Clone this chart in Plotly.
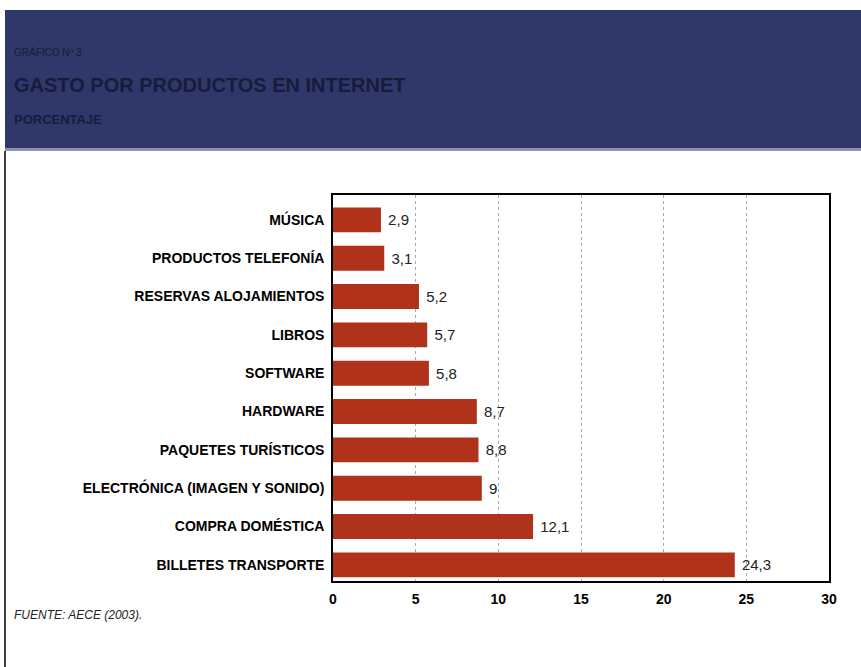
import plotly.graph_objects as go

categories = ["MÚSICA", "PRODUCTOS TELEFONÍA", "RESERVAS ALOJAMIENTOS", "LIBROS", "SOFTWARE",
              "HARDWARE", "PAQUETES TURÍSTICOS", "ELECTRÓNICA (IMAGEN Y SONIDO)",
              "COMPRA DOMÉSTICA", "BILLETES TRANSPORTE"]
values = [2.9, 3.1, 5.2, 5.7, 5.8, 8.7, 8.8, 9, 12.1, 24.3]
value_labels = [" " + str(v).replace(".", ",") for v in values]
x_ticks = [0, 5, 10, 15, 20, 25, 30]

fig = go.Figure(go.Bar(
    y=categories, x=values, orientation="h",
    marker=dict(color="#b0321b", line=dict(width=0)),
    width=0.65,
    text=value_labels, textposition="outside",
    textfont=dict(family="Liberation Sans, Arial", size=15, color="#222"),
    cliponaxis=False,
))

fig.update_layout(
    width=861, height=667,
    margin=dict(l=333, r=32, t=195, b=86),
    paper_bgcolor="white", plot_bgcolor="white",
    showlegend=False,
    xaxis=dict(range=[0, 30], tickvals=x_ticks, showgrid=True, gridcolor="#aaa",
               griddash="dot", gridwidth=1, zeroline=False,
               showline=True, linecolor="black", linewidth=1.5, mirror=True,
               ticks="", ticklabelstandoff=4,
               tickfont=dict(family="Liberation Sans Narrow, Arial", size=14, color="black",
                             weight="bold")),
    yaxis=dict(type="category", categoryorder="array", categoryarray=categories,
               range=[9.42, -0.65], showgrid=False,
               showline=True, linecolor="black", linewidth=1.5, mirror=True,
               ticks="", ticklabelstandoff=4,
               tickfont=dict(family="Liberation Sans, Arial", size=14, color="black", weight="bold")),
    font=dict(family="Liberation Sans, Arial"),
)

fig.update_layout(shapes=[
    dict(type="rect", xref="x domain", yref="y domain", xsizemode="pixel", ysizemode="pixel",
         xanchor=0, yanchor=1, x0=-328, x1=528, y0=185, y1=47,
         fillcolor="#2f3868", line=dict(width=0), layer="below"),
    dict(type="rect", xref="x domain", yref="y domain", xsizemode="pixel", ysizemode="pixel",
         xanchor=0, yanchor=1, x0=-328, x1=528, y0=47, y1=44,
         fillcolor="#8d93b0", line=dict(width=0), layer="below"),
    dict(type="line", xref="x domain", yref="y domain", xsizemode="pixel", ysizemode="pixel",
         xanchor=0, yanchor=1, x0=-328, x1=-328, y0=44, y1=-480,
         line=dict(color="black", width=1.5)),
])

hdr = "#171b3c"
fig.add_annotation(text="GRÁFICO Nº 3", xref="paper", yref="paper", x=0, y=1,
                   xshift=-321, yshift=143, xanchor="left", yanchor="middle", showarrow=False,
                   font=dict(family="Liberation Sans Narrow, Arial", size=10, color=hdr))
fig.add_annotation(text="<b>GASTO POR PRODUCTOS EN INTERNET</b>", xref="paper", yref="paper", x=0, y=1,
                   xshift=-321, yshift=110, xanchor="left", yanchor="middle", showarrow=False,
                   font=dict(family="Liberation Sans Narrow, Arial", size=20, color=hdr))
fig.add_annotation(text="<b>PORCENTAJE</b>", xref="paper", yref="paper", x=0, y=1,
                   xshift=-321, yshift=76, xanchor="left", yanchor="middle", showarrow=False,
                   font=dict(family="Liberation Sans Narrow, Arial", size=13, color=hdr))
fig.add_annotation(text="<i>FUENTE: AECE (2003).</i>", xref="paper", yref="paper", x=0, y=0,
                   xshift=-321, yshift=-34, xanchor="left", yanchor="middle", showarrow=False,
                   font=dict(family="Liberation Sans Narrow, Arial", size=12, color="#222"))

fig.write_html("out.html", config={"displayModeBar": False},
               post_script="document.body.style.margin='0';")
